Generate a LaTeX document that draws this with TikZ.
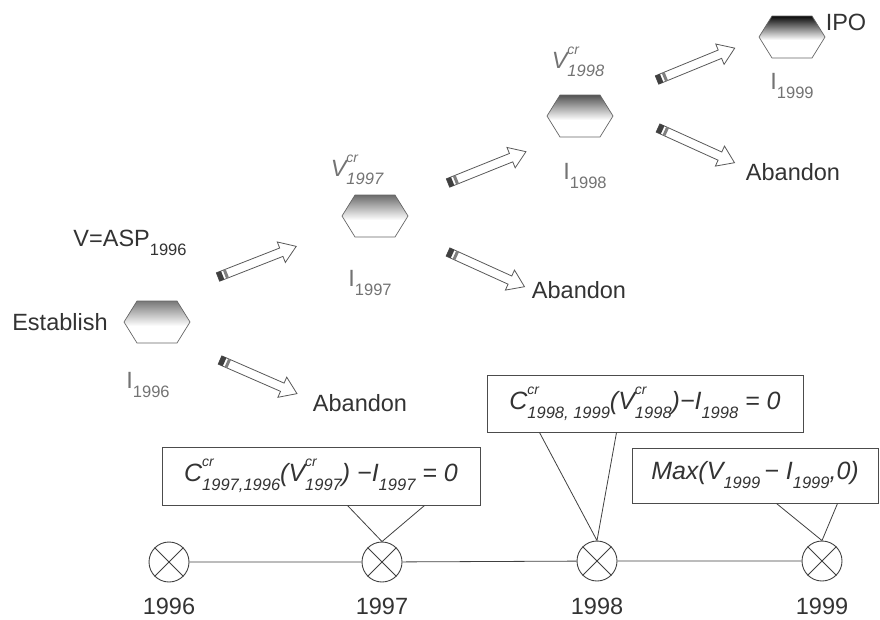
\documentclass[tikz,border=0pt]{standalone}
\usepackage{fontspec}
\setmainfont{Liberation Sans}
\usetikzlibrary{calc}
\newcommand\crs[1]{\rlap{\raisebox{0.6em}{\fontsize{14}{14}\selectfont cr}}\raisebox{-0.36em}{\fontsize{16.5}{16.5}\selectfont #1}}
\newcommand\sbs[1]{\raisebox{-0.36em}{\fontsize{16.5}{16.5}\selectfont #1}}
\newcommand\hexa[3]{% #1 centre, #2 top colour, #3 end of gradient (from top)
  \begin{scope}[shift={(#1)}]
    \begin{scope}
      \clip (-33,0) -- (-20,-21) -- (20,-21) -- (33,0) -- (20,21) -- (-20,21) -- cycle;
      \shade[top color=#2, bottom color=white] (-34,-22) rectangle (34,#3);
    \end{scope}
    \draw[black!60, line width=0.7pt] (-33,0) -- (-20,-21) -- (20,-21) -- (33,0) -- (20,21) -- (-20,21) -- cycle;
  \end{scope}}
\begin{document}
\begin{tikzpicture}[x=1pt,y=-1pt,
  lbl/.style={font=\fontsize{23.5}{27}\selectfont, text=black!80, inner sep=0pt},
  glbl/.style={lbl, text=black!55},
  yearcirc/.style={circle, draw=black!75, line width=0.9pt, minimum size=40pt, inner sep=0pt},
  callout/.style={draw=black!70, line width=1pt, inner sep=0pt, text=black!80, font=\itshape\fontsize{25}{28}\selectfont},
  cline/.style={draw=black!75, line width=0.8pt},
  barrow/.pic={
    \path[fill=white, draw=black!65, line width=0.8pt] (0,-4.5) -- (68,-4.5) -- (68,-11) -- (84,0) -- (68,11) -- (68,4.5) -- (0,4.5) -- cycle;
    \fill[black!75] (0,-4.5) rectangle (5,4.5);
    \fill[black!50] (7,-4.5) rectangle (10,4.5);
  }]
\useasboundingbox (0,0) rectangle (880,619);

% hexagons
\coordinate (h96) at (157,322);
\coordinate (h97) at (375,216);
\coordinate (h98) at (580,116);
\coordinate (h99) at (792,37);
\hexa{h96}{black!55}{4}
\hexa{h97}{black!60}{4}
\hexa{h98}{black!70}{4}
\hexa{h99}{black}{3}

% labels
\node[lbl] (est) at (60,322) {Establish};
\node[lbl] (asp) at (130,243) {V=ASP\sbs{1996}};
\node[glbl] (i96) at (148,385) {I\sbs{1996}};
\node[glbl] (v97) at (357,170) {\itshape V\crs{1997}};
\node[glbl] (i97) at (370,283) {I\sbs{1997}};
\node[glbl] (v98) at (578,62) {\itshape V\crs{1998}};
\node[glbl] (i98) at (585,176) {I\sbs{1998}};
\node[glbl] (i99) at (792,86) {I\sbs{1999}};
\node[lbl] (ipo) at (846,22) {IPO};
\node[lbl] (ab1) at (360,403) {Abandon};
\node[lbl] (ab2) at (579,290) {Abandon};
\node[lbl] (ab3) at (793,172) {Abandon};

% arrows
\coordinate (a1) at (218,277);
\coordinate (a2) at (220,360);
\coordinate (a3) at (448,183);
\coordinate (a4) at (448,252);
\coordinate (a5) at (657,80);
\coordinate (a6) at (658,128);
\pic[rotate=21.4] at (a1) {barrow};
\pic[rotate=-23.6] at (a2) {barrow};
\pic[rotate=21.9] at (a3) {barrow};
\pic[rotate=-24.4] at (a4) {barrow};
\pic[rotate=22.3] at (a5) {barrow};
\pic[rotate=-24.4] at (a6) {barrow};

% timeline
\node[yearcirc] (t96) at (169,562) {};
\node[yearcirc] (t97) at (382,562) {};
\node[yearcirc] (t98) at (597,561) {};
\node[yearcirc] (t99) at (822,561) {};
\foreach \t in {t96,t97,t98,t99}{
  \draw[black!75, line width=0.8pt] (\t.north west) -- (\t.south east) (\t.north east) -- (\t.south west);
}
\draw[black!75, line width=0.8pt] (t96) -- (t97) -- (t98) -- (t99);
\node[lbl] (y96) at (169,606) {1996};
\node[lbl] (y97) at (382,606) {1997};
\node[lbl] (y98) at (597,606) {1998};
\node[lbl] (y99) at (822,606) {1999};

% callouts
\node[callout, minimum width=318pt, minimum height=58pt] (b1) at (321,476)
  {C\crs{1997,1996}(V\crs{1997}) \textminus I\sbs{1997} = 0};
\node[callout, minimum width=316pt, minimum height=57pt] (b2) at (645,403.5)
  {C\crs{1998, 1999}(V\crs{1998})\textminus I\sbs{1998} = 0};
\node[callout, minimum width=246pt, minimum height=55pt] (b3) at (755,475.5)
  {Max(V\sbs{1999}\,\textminus\ I\sbs{1999},0)};

\draw[cline] ($(b1.south west)+(186,0)$) -- (t97.north) -- ($(b1.south west)+(263,0)$);
\draw[cline] ($(b2.south west)+(53,0)$) -- (t98.north) -- ($(b2.south west)+(130,0)$);
\draw[cline] ($(b3.south west)+(145,0)$) -- (t99.north) -- ($(b3.south west)+(206,0)$);
\end{tikzpicture}
\end{document}
